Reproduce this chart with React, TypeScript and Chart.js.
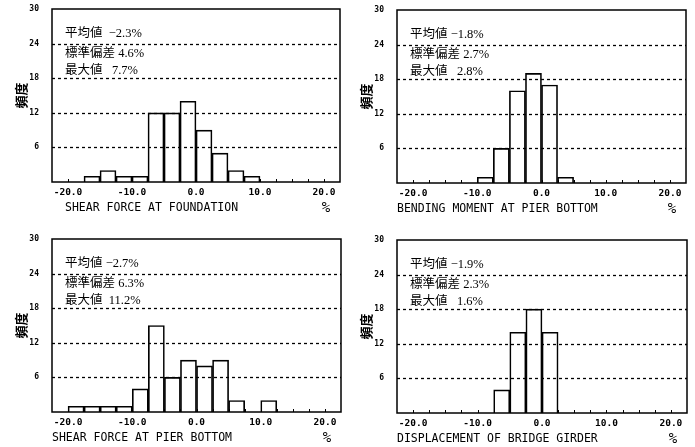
import React, { useEffect, useRef } from "react";
import { Chart, registerables } from "chart.js";
Chart.register(...registerables);

// Histogram bins (left edges, width 2.5 %)
const binStarts = [-20, -17.5, -15, -12.5, -10, -7.5, -5, -2.5, 0, 2.5, 5, 7.5, 10, 12.5, 15, 17.5];
const binWidth = 2.5;
const xTickValues = [-20, -10, 0, 10, 20];
const yTickValues = [6, 12, 18, 24, 30];
const yGridValues = [6, 12, 18, 24];

// Frequencies per bin
const shearFoundationCounts = [0, 1, 2, 1, 1, 12, 12, 14, 9, 5, 2, 1, 0, 0, 0, 0];
const bendingMomentCounts = [0, 0, 0, 0, 1, 6, 16, 19, 17, 1, 0, 0, 0, 0, 0, 0];
const shearPierCounts = [1, 1, 1, 1, 4, 15, 6, 9, 8, 9, 2, 0, 2, 0, 0, 0];
const displacementCounts = [0, 0, 0, 0, 0, 4, 14, 18, 14, 0, 0, 0, 0, 0, 0, 0];

const panelTitles = [
  "SHEAR FORCE AT FOUNDATION",
  "BENDING MOMENT AT PIER BOTTOM",
  "SHEAR FORCE AT PIER BOTTOM",
  "DISPLACEMENT OF BRIDGE GIRDER",
];
const meanLabels = ["平均値  −2.3%", "平均値 −1.8%", "平均値 −2.7%", "平均値 −1.9%"];
const sdLabels = ["標準偏差 4.6%", "標準偏差 2.7%", "標準偏差 6.3%", "標準偏差 2.3%"];
const maxLabels = ["最大値   7.7%", "最大値   2.8%", "最大値  11.2%", "最大値   1.6%"];
const yAxisTitle = "頻度";
const unitLabel = "%";

type Layout = { left: number; top: number; w: number; h: number; padTop: number; padRight: number; bottomH: number; titleX: number };

const layouts: Layout[] = [
  { left: 0, top: 0, w: 345, h: 225, padTop: 9, padRight: 5, bottomH: 43, titleX: 65 },
  { left: 345, top: 0, w: 350, h: 225, padTop: 10, padRight: 9, bottomH: 42, titleX: 52 },
  { left: 0, top: 225, w: 345, h: 222, padTop: 14, padRight: 4, bottomH: 35, titleX: 52 },
  { left: 345, top: 225, w: 350, h: 222, padTop: 15, padRight: 8, bottomH: 34, titleX: 52 },
];

const countsList = [shearFoundationCounts, bendingMomentCounts, shearPierCounts, displacementCounts];

const monoFont = '"DejaVu Sans Mono", monospace';
const textFont = '"Liberation Serif", "Noto Sans CJK JP", serif';

function zeroPad(s: any) {
  s.paddingTop = 0;
  s.paddingBottom = 0;
  s.paddingLeft = 0;
  s.paddingRight = 0;
}

function Panel({ idx }: { idx: number }) {
  const ref = useRef<HTMLCanvasElement | null>(null);
  const L = layouts[idx];
  useEffect(() => {
    if (!ref.current) return;
    const counts = countsList[idx];
    const data = binStarts
      .map((s, i) => ({ x: s + binWidth / 2, y: counts[i] }))
      .filter((d) => d.y > 0);

    const decor = {
      id: "decor" + idx,
      beforeDatasetsDraw(chart: any) {
        const { ctx, chartArea } = chart;
        const ys = chart.scales.y;
        ctx.save();
        ctx.strokeStyle = "#000";
        ctx.lineWidth = 1.3;
        ctx.setLineDash([3, 3]);
        for (const v of yGridValues) {
          const y = Math.round(ys.getPixelForValue(v)) + 0.5;
          ctx.beginPath();
          ctx.moveTo(chartArea.left, y);
          ctx.lineTo(chartArea.right, y);
          ctx.stroke();
        }
        ctx.restore();
      },
      afterDatasetsDraw(chart: any) {
        const { ctx, chartArea } = chart;
        const xs = chart.scales.x;
        ctx.save();
        ctx.strokeStyle = "#000";
        ctx.lineWidth = 1.5;
        ctx.setLineDash([]);
        ctx.strokeRect(chartArea.left, chartArea.top, chartArea.right - chartArea.left, chartArea.bottom - chartArea.top);
        // minor ticks along the bottom axis
        ctx.lineWidth = 1;
        for (let i = 0; i <= 16; i++) {
          const v = -20 + i * binWidth;
          const x = Math.round(xs.getPixelForValue(v)) + 0.5;
          ctx.beginPath();
          ctx.moveTo(x, chartArea.bottom);
          ctx.lineTo(x, chartArea.bottom - 3);
          ctx.stroke();
        }
        // stats text
        ctx.fillStyle = "#000";
        ctx.font = "12.5px " + textFont;
        ctx.textBaseline = "middle";
        ctx.textAlign = "left";
        const tx = chartArea.left + 13;
        ctx.fillText(meanLabels[idx], tx, chartArea.top + 25);
        ctx.fillText(sdLabels[idx], tx, chartArea.top + 45);
        ctx.fillText(maxLabels[idx], tx, chartArea.top + 62);
        // axis title and unit
        ctx.font = "11.5px " + monoFont;
        ctx.fillText(panelTitles[idx], L.titleX, chartArea.bottom + 26);
        ctx.textAlign = "center";
        ctx.font = "14px " + monoFont;
        ctx.fillText(unitLabel, chartArea.right - 14, chartArea.bottom + 26);
        ctx.restore();
      },
    };

    const chart = new Chart(ref.current, {
      type: "bar",
      data: {
        datasets: [
          {
            data: data as any,
            backgroundColor: "rgba(255,255,255,0)",
            borderColor: "#000",
            borderWidth: 1,
            borderSkipped: "start",
            barPercentage: 1,
            categoryPercentage: 1,
          },
        ],
      },
      options: {
        responsive: false,
        animation: false,
        layout: { padding: { left: 0, top: L.padTop, right: L.padRight, bottom: 0 } },
        plugins: { legend: { display: false }, tooltip: { enabled: false } },
        scales: {
          x: {
            type: "linear",
            min: -22.5,
            max: 22.5,
            offset: false,
            grid: { display: false, drawTicks: false },
            border: { display: false },
            afterBuildTicks: (s: any) => {
              s.ticks = xTickValues.map((v) => ({ value: v }));
            },
            afterFit: (s: any) => {
              s.height = L.bottomH;
              zeroPad(s);
            },
            ticks: {
              autoSkip: false,
              maxRotation: 0,
              padding: 5,
              color: "#000",
              font: { family: monoFont, size: 9.5, weight: "bold" },
              callback: (v: any) => Number(v).toFixed(1),
            },
          },
          y: {
            min: 0,
            max: 30,
            grid: { display: false, drawTicks: false },
            border: { display: false },
            afterBuildTicks: (s: any) => {
              s.ticks = yTickValues.map((v) => ({ value: v }));
            },
            afterFit: (s: any) => {
              s.width = 52;
              zeroPad(s);
            },
            ticks: {
              padding: 13,
              color: "#000",
              font: { family: monoFont, size: 8, weight: "bold" },
              callback: (v: any) => String(v),
            },
            title: {
              display: true,
              text: yAxisTitle,
              color: "#000",
              padding: { top: 13, bottom: 0 },
              font: { family: '"Noto Sans CJK JP", sans-serif', size: 13, weight: "bold" },
            },
          },
        },
      },
      plugins: [decor],
    });
    return () => chart.destroy();
  }, [idx]);
  return (
    <div style={{ position: "absolute", left: L.left, top: L.top, width: L.w, height: L.h }}>
      <canvas ref={ref} width={L.w} height={L.h} style={{ display: "block", width: L.w, height: L.h }} />
    </div>
  );
}

export default function App() {
  return (
    <div style={{ position: "fixed", left: 0, top: 0, width: 695, height: 447, background: "#fff", overflow: "hidden" }}>
      {layouts.map((_, i) => (
        <Panel key={i} idx={i} />
      ))}
    </div>
  );
}
